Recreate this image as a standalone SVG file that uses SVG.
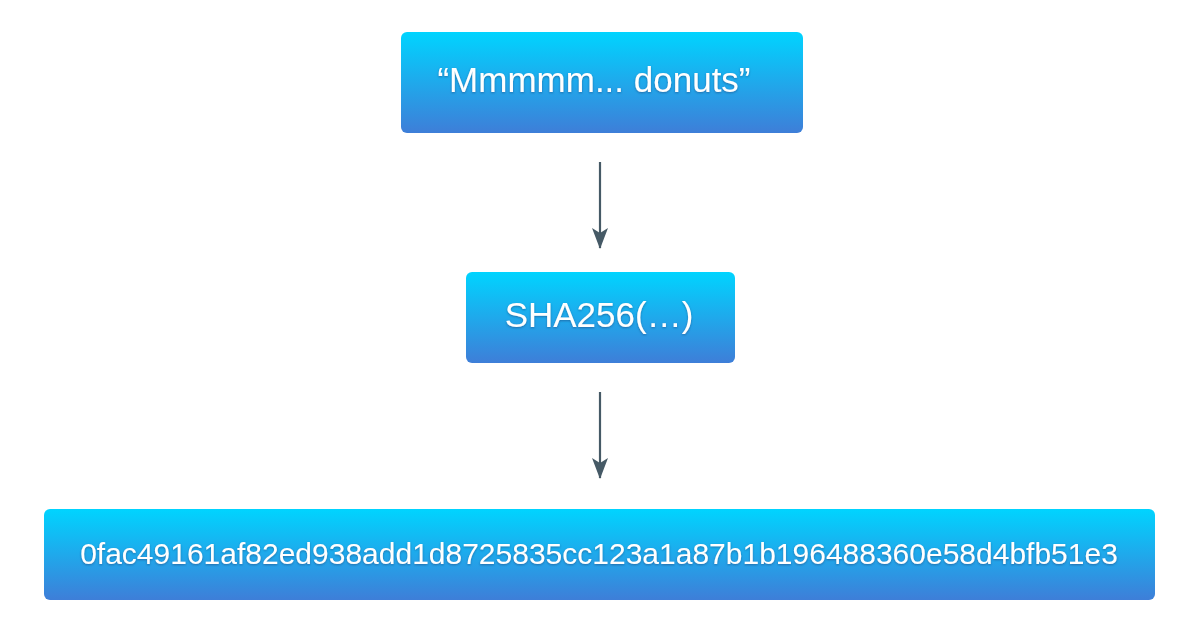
<svg xmlns="http://www.w3.org/2000/svg" width="1200" height="627" viewBox="0 0 1200 627">
<defs>
<linearGradient id="g" x1="0" y1="0" x2="0" y2="1">
<stop offset="0" stop-color="#00D4FF"/>
<stop offset="1" stop-color="#3E7ED8"/>
</linearGradient>
<filter id="ts" x="-10%" y="-30%" width="120%" height="160%">
<feDropShadow dx="0" dy="1" stdDeviation="0.8" flood-color="#1a4a80" flood-opacity="0.6"/>
</filter>
<marker id="ah" markerWidth="21" markerHeight="16" refX="20" refY="8" orient="auto" markerUnits="userSpaceOnUse" viewBox="0 0 21 16">
<path d="M0,0 L5,8 L0,16 L21,8 Z" fill="#465A66"/>
</marker>
</defs>
<style>
rect.box{fill:url(#g)}
text{font-family:"Liberation Sans",Arial,sans-serif;fill:#fff;text-anchor:middle;filter:url(#ts)}
.conn line{stroke:#465A66;stroke-width:2.2}
</style>
<rect width="1200" height="627" fill="#fff"/>
<g id="input"><rect class="box" x="401" y="32" width="402" height="101" rx="6"/><text x="594" y="92" font-size="35">“Mmmmm... donuts”</text></g>
<g id="hash"><rect class="box" x="466" y="272" width="269" height="91" rx="6"/><text x="599" y="327" font-size="35">SHA256(…)</text></g>
<g id="output"><rect class="box" x="44" y="509" width="1111" height="91" rx="6"/><text x="599" y="564" font-size="30">0fac49161af82ed938add1d8725835cc123a1a87b1b196488360e58d4bfb51e3</text></g>
<g class="conn">
<line x1="600" y1="162" x2="600" y2="248" marker-end="url(#ah)"/>
<line x1="600" y1="392" x2="600" y2="478" marker-end="url(#ah)"/>
</g>
</svg>
